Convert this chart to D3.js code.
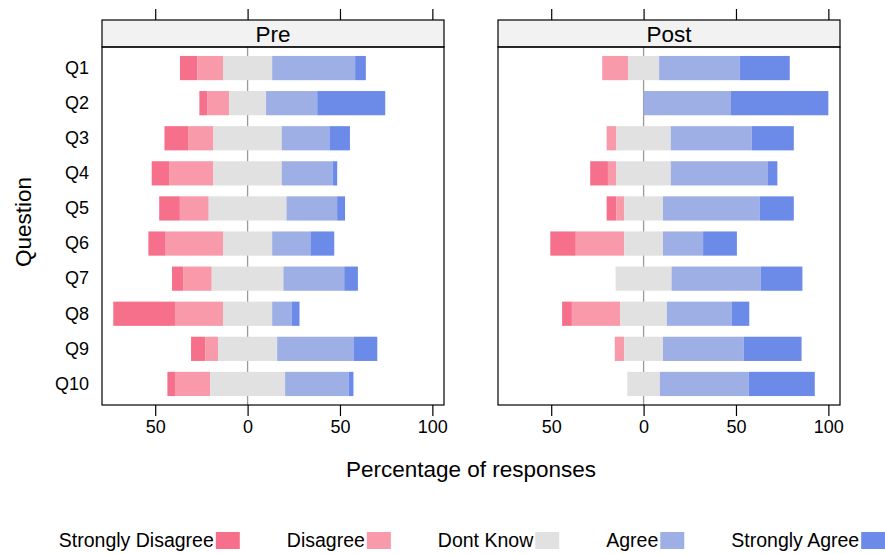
<!DOCTYPE html>
<html>
<head>
<meta charset="utf-8">
<script src="https://cdn.jsdelivr.net/npm/d3@7"></script>
<style>
  body { margin: 0; background: #fff; }
  svg text { font-family: "Liberation Sans", Arial, sans-serif; fill: #000; }
</style>
</head>
<body>
<script>
// likert data, percentages
var questions = ["Q1","Q2","Q3","Q4","Q5","Q6","Q7","Q8","Q9","Q10"];
var levels = ["Strongly Disagree","Disagree","Dont Know","Agree","Strongly Agree"];
var panels = ["Pre","Post"];
var xTicks = [-50, 0, 50, 100];

// Pre
var preSD = [9.4, 4.2, 12.8, 9.4, 11.2, 9.4, 6.0, 33.4, 7.8, 4.1];
var preD  = [13.9, 11.9, 13.7, 24.0, 15.6, 31.0, 15.5, 26.0, 6.8, 19.0];
var preDK = [26.6, 20.0, 37.0, 37.0, 42.1, 26.6, 38.8, 26.6, 32.0, 40.6];
var preA  = [44.9, 27.7, 25.8, 27.5, 27.4, 20.7, 32.9, 10.5, 41.3, 34.5];
var preSA = [5.8, 36.8, 11.1, 2.5, 4.3, 12.9, 7.4, 4.3, 12.9, 2.5];

// Post
var postSD = [0, 0, 0, 9.6, 5.3, 13.8, 0, 5.3, 0, 0];
var postD  = [14.0, 0, 5.3, 4.6, 4.2, 26.2, 0, 26.2, 5.1, 0];
var postDK = [16.8, 0, 29.4, 29.4, 21.0, 21.0, 30.3, 25.2, 21.0, 17.7];
var postA  = [43.6, 47.3, 43.8, 52.6, 52.4, 21.7, 48.2, 35.0, 43.7, 48.0];
var postSA = [27.1, 52.7, 22.8, 5.1, 18.4, 18.3, 22.6, 9.6, 31.3, 35.8];

var colors = ["#F7708B", "#F99AAB", "#E1E1E1", "#9EAFE5", "#6C8BE9"];

var seriesByPanel = {
  "Pre":  [preSD, preD, preDK, preA, preSA],
  "Post": [postSD, postD, postDK, postA, postSA]
};

var width = 885, height = 554;
var panelW = 342,
    panelLeft = {"Pre": 102, "Post": 498},
    stripTop = 20, stripH = 27,
    plotTop = stripTop + stripH, plotBottom = 405;

var svg = d3.select("body").append("svg")
    .attr("width", width).attr("height", height);

var x = d3.scaleLinear().domain([-78.8, 106.3]).range([0, panelW]);
var y = d3.scaleBand().domain(questions)
    .range([plotTop, plotBottom])
    .paddingInner(0.31).paddingOuter(0.255);

var color = d3.scaleOrdinal().domain(levels).range(colors);

// build segments for a panel: DK centred on zero
function segments(panel) {
  var s = seriesByPanel[panel];
  var out = [];
  questions.forEach(function(q, i) {
    var start = -(s[0][i] + s[1][i] + s[2][i] / 2);
    levels.forEach(function(lv, j) {
      var v = s[j][i];
      if (v > 0) out.push({q: q, level: lv, x0: start, x1: start + v});
      start += v;
    });
  });
  return out;
}

panels.forEach(function(p) {
  var g = svg.append("g").attr("transform", "translate(" + panelLeft[p] + ",0)");

  // zero reference line (under the bars)
  g.append("line")
    .attr("x1", x(0)).attr("x2", x(0))
    .attr("y1", plotTop).attr("y2", plotBottom)
    .attr("stroke", "#9a9a9a").attr("stroke-width", 1.3);

  g.append("g").selectAll("rect")
    .data(segments(p))
    .enter().append("rect")
      .attr("x", function(d) { return x(d.x0); })
      .attr("width", function(d) { return x(d.x1) - x(d.x0); })
      .attr("y", function(d) { return y(d.q); })
      .attr("height", y.bandwidth())
      .attr("fill", function(d) { return color(d.level); });

  // strip
  g.append("rect")
    .attr("x", 0).attr("y", stripTop)
    .attr("width", panelW).attr("height", stripH)
    .attr("fill", "#F2F2F2").attr("stroke", "#000").attr("stroke-width", 1.2);
  g.append("text")
    .attr("x", panelW / 2).attr("y", stripTop + stripH / 2 + 8)
    .attr("text-anchor", "middle")
    .attr("font-size", "22.5px")
    .text(p);

  // panel frame
  g.append("rect")
    .attr("x", 0).attr("y", plotTop)
    .attr("width", panelW).attr("height", plotBottom - plotTop)
    .attr("fill", "none").attr("stroke", "#000").attr("stroke-width", 1.2);

  // axes
  var bottom = g.append("g")
    .attr("transform", "translate(0," + plotBottom + ")")
    .call(d3.axisBottom(x).tickValues(xTicks).tickSize(11).tickPadding(4)
      .tickFormat(function(d) { return Math.abs(d); }));
  bottom.select(".domain").remove();
  bottom.selectAll("text").attr("font-size", "18px")
    .style("font-family", "'Liberation Sans', Arial, sans-serif").attr("fill", "#000");
  bottom.selectAll("line").attr("stroke", "#000").attr("stroke-width", 1.2);

  var top = g.append("g")
    .attr("transform", "translate(0," + stripTop + ")")
    .call(d3.axisTop(x).tickValues(xTicks).tickSize(11).tickFormat(""));
  top.select(".domain").remove();
  top.selectAll("line").attr("stroke", "#000").attr("stroke-width", 1.2);

  if (p === "Pre") {
    var left = g.append("g")
      .call(d3.axisLeft(y).tickSize(0).tickPadding(13));
    left.select(".domain").remove();
    left.selectAll("text").attr("font-size", "18px")
      .style("font-family", "'Liberation Sans', Arial, sans-serif").attr("fill", "#000");
  }
});

// axis titles
svg.append("text")
  .attr("x", 471).attr("y", 477)
  .attr("text-anchor", "middle")
  .attr("font-size", "22.5px")
  .text("Percentage of responses");

svg.append("text")
  .attr("transform", "translate(31,222) rotate(-90)")
  .attr("text-anchor", "middle")
  .attr("font-size", "22.5px")
  .text("Question");

// legend, centred under the panels
var legend = svg.append("g");
var items = legend.selectAll("g").data(levels).enter().append("g");
items.append("text")
  .attr("font-size", "19.5px")
  .attr("text-anchor", "end")
  .attr("y", 547)
  .text(function(d) { return d; });
var swW = 24, gap = 47, widths = [];
items.each(function() {
  widths.push(d3.select(this).select("text").node().getComputedTextLength() + 2 + swW);
});
var total = d3.sum(widths) + gap * (levels.length - 1);
var cursor = 472 - total / 2;
items.each(function(d, i) {
  var it = d3.select(this);
  var right = cursor + widths[i];
  it.select("text").attr("x", right - swW - 2);
  it.append("rect")
    .attr("x", right - swW).attr("y", 532)
    .attr("width", swW).attr("height", 17)
    .attr("fill", color(d));
  cursor = right + gap;
});
</script>
</body>
</html>
